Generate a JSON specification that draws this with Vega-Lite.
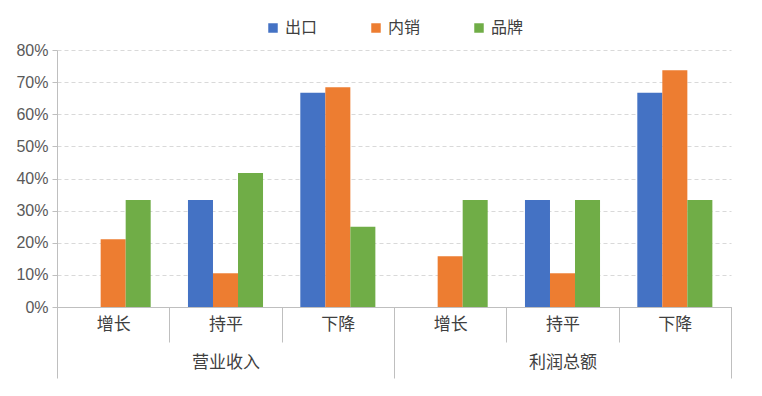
{
  "$schema": "https://vega.github.io/schema/vega-lite/v6.json",
  "width": 674,
  "height": 257,
  "autosize": {"type": "none"},
  "padding": {"left": 57, "top": 50, "right": 31, "bottom": 89},
  "background": "white",
  "data": {"values": [
    {"group": "营业收入", "key": "营业收入|增长", "series": "出口", "value": 0},
    {"group": "营业收入", "key": "营业收入|增长", "series": "内销", "value": 0.211},
    {"group": "营业收入", "key": "营业收入|增长", "series": "品牌", "value": 0.333},
    {"group": "营业收入", "key": "营业收入|持平", "series": "出口", "value": 0.333},
    {"group": "营业收入", "key": "营业收入|持平", "series": "内销", "value": 0.105},
    {"group": "营业收入", "key": "营业收入|持平", "series": "品牌", "value": 0.417},
    {"group": "营业收入", "key": "营业收入|下降", "series": "出口", "value": 0.667},
    {"group": "营业收入", "key": "营业收入|下降", "series": "内销", "value": 0.684},
    {"group": "营业收入", "key": "营业收入|下降", "series": "品牌", "value": 0.25},
    {"group": "利润总额", "key": "利润总额|增长", "series": "出口", "value": 0},
    {"group": "利润总额", "key": "利润总额|增长", "series": "内销", "value": 0.158},
    {"group": "利润总额", "key": "利润总额|增长", "series": "品牌", "value": 0.333},
    {"group": "利润总额", "key": "利润总额|持平", "series": "出口", "value": 0.333},
    {"group": "利润总额", "key": "利润总额|持平", "series": "内销", "value": 0.105},
    {"group": "利润总额", "key": "利润总额|持平", "series": "品牌", "value": 0.333},
    {"group": "利润总额", "key": "利润总额|下降", "series": "出口", "value": 0.667},
    {"group": "利润总额", "key": "利润总额|下降", "series": "内销", "value": 0.737},
    {"group": "利润总额", "key": "利润总额|下降", "series": "品牌", "value": 0.333}
  ]},
  "layer": [
    {
      "mark": {"type": "bar"},
      "encoding": {
        "x": {
          "field": "key", "type": "nominal", "sort": null,
          "scale": {"paddingInner": 0, "paddingOuter": 0},
          "axis": {
            "orient": "bottom", "title": null, "labelAngle": 0,
            "labelExpr": "split(datum.label, '|')[1]",
            "tickBand": "extent", "tickSize": 35, "labelPadding": -26,
            "labelFontSize": 17, "labelColor": "#404040", "labelFont": "Noto Sans CJK SC",
            "tickColor": "#bfbfbf", "domainColor": "#bfbfbf"
          }
        },
        "xOffset": {"field": "series", "type": "nominal", "sort": ["出口", "内销", "品牌"], "scale": {"paddingInner": 0, "paddingOuter": 0.745}},
        "y": {
          "field": "value", "type": "quantitative",
          "scale": {"domain": [0, 0.8], "nice": false},
          "axis": {
            "title": null, "format": ".0%", "values": [0, 0.1, 0.2, 0.3, 0.4, 0.5, 0.6, 0.7, 0.8],
            "tickCount": 20,
            "labelOverlap": false,
            "labelFontSize": 16, "labelColor": "#595959", "labelFont": "Liberation Sans",
            "grid": true, "gridDash": [4, 3], "gridColor": "#d9d9d9",
            "domainColor": "#bfbfbf", "tickColor": "#bfbfbf", "tickSize": 5, "labelPadding": 4
          }
        },
        "color": {
          "field": "series", "type": "nominal",
          "scale": {"domain": ["出口", "内销", "品牌"], "range": ["#4472C4", "#ED7D31", "#70AD47"]},
          "legend": {
            "orient": "top", "title": null, "symbolType": "square", "symbolSize": 90,
            "labelFontSize": 16, "labelFont": "Noto Sans CJK SC", "labelColor": "#404040",
            "columnPadding": 50, "offset": 14
          }
        }
      }
    },
    {
      "mark": {"type": "bar", "opacity": 0},
      "encoding": {
        "x": {
          "field": "group", "type": "nominal", "sort": null,
          "scale": {"paddingInner": 0, "paddingOuter": 0},
          "axis": {
            "orient": "bottom", "title": null, "labelAngle": 0,
            "tickBand": "extent", "tickSize": 71, "labelPadding": -24,
            "labelFontSize": 17, "labelColor": "#404040", "labelFont": "Noto Sans CJK SC",
            "tickColor": "#bfbfbf", "domainColor": "#bfbfbf"
          }
        }
      }
    }
  ],
  "resolve": {"scale": {"x": "independent"}, "axis": {"x": "independent"}},
  "config": {
    "legend": {"layout": {"top": {"anchor": "middle"}}},
    "view": {"stroke": null}
  }
}
